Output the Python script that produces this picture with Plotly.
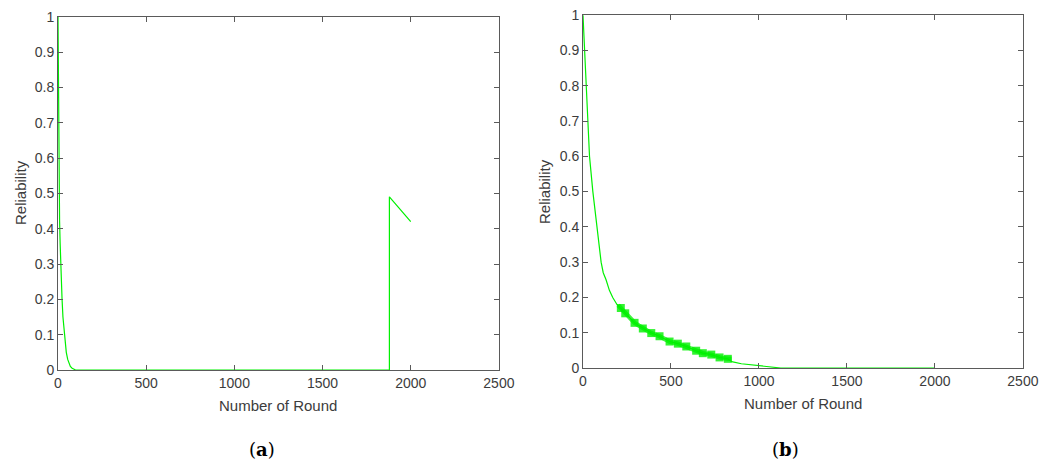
import plotly.graph_objects as go

# panel (a): reliability per round
rounds_a = [0, 1, 3, 6, 9, 12, 15, 19, 23, 28, 36, 42, 47, 55, 62, 70, 80, 90, 100,
            1879, 1879, 2000]
rel_a = [1, 0.9, 0.7, 0.55, 0.42, 0.36, 0.3, 0.25, 0.2, 0.15, 0.1, 0.07, 0.05, 0.03,
         0.02, 0.01, 0.005, 0.002, 0, 0, 0.49, 0.42]

# panel (b): reliability per round
rounds_b = [0, 9, 19, 26, 37, 56, 79, 90, 103, 115, 131, 150, 169, 193, 253, 293, 318,
            388, 435, 492, 539, 587, 643, 681, 729, 776, 823, 845, 900, 975, 1050, 1086,
            1124, 2000]
rel_b = [1, 0.9, 0.8, 0.7, 0.6, 0.5, 0.4, 0.35, 0.3, 0.27, 0.25, 0.22, 0.2, 0.18, 0.15,
         0.128, 0.12, 0.099, 0.09, 0.075, 0.069, 0.061, 0.049, 0.042, 0.038, 0.03, 0.026,
         0.018, 0.012, 0.008, 0.004, 0.003, 0, 0]

# noisy band in (b)
band_x = [200, 253, 293, 318, 388, 435, 492, 539, 587, 643, 681, 729, 776, 823, 845]
band_y = [0.178, 0.15, 0.128, 0.12, 0.099, 0.09, 0.075, 0.069, 0.061, 0.049, 0.042,
          0.038, 0.03, 0.026, 0.026]
blob_x = [215, 240, 293, 340, 388, 435, 492, 539, 587, 643, 681, 729, 776, 823]
blob_y = [0.17, 0.155, 0.128, 0.112, 0.099, 0.09, 0.075, 0.069, 0.061, 0.049, 0.042,
          0.038, 0.03, 0.026]

x_ticks = [0, 500, 1000, 1500, 2000, 2500]
y_ticks = [0, 0.1, 0.2, 0.3, 0.4, 0.5, 0.6, 0.7, 0.8, 0.9, 1]
y_labels = ["0", "0.1", "0.2", "0.3", "0.4", "0.5", "0.6", "0.7", "0.8", "0.9", "1"]

green = '#00f000'
axis_col = '#5a5a5a'
text_col = '#3c3c3c'
sans = 'Liberation Sans, Arial'

W, H = 1061, 464
OFF = 8  # page body margin


def px(p):
    return (p - OFF) / W


def py(p):
    return 1 - (p - OFF) / H


fig = go.Figure()
fig.add_trace(go.Scatter(x=rounds_a, y=rel_a, mode='lines', xaxis='x', yaxis='y',
                         line=dict(color=green, width=1.2), showlegend=False))
fig.add_trace(go.Scatter(x=band_x, y=band_y, mode='lines', xaxis='x2', yaxis='y2',
                         line=dict(color=green, width=4.5), opacity=0.75, showlegend=False))
fig.add_trace(go.Scatter(x=rounds_b, y=rel_b, mode='lines', xaxis='x2', yaxis='y2',
                         line=dict(color=green, width=1.2), showlegend=False))
fig.add_trace(go.Scatter(x=blob_x, y=blob_y, mode='markers', xaxis='x2', yaxis='y2',
                         marker=dict(symbol='square', size=8, color=green, opacity=0.8),
                         showlegend=False))

common_x = dict(range=[0, 2500.5], tickvals=x_ticks, ticks='inside', ticklen=5,
                tickcolor=axis_col, showline=True, linecolor=axis_col, linewidth=1,
                mirror='ticks', showgrid=False, zeroline=False, automargin=False,
                ticklabeloverflow='allow',
                tickfont=dict(family=sans, size=14, color=text_col))
common_y = dict(range=[0, 1.0005], tickvals=y_ticks, ticktext=y_labels, ticks='inside',
                ticklen=5, tickcolor=axis_col, showline=True, linecolor=axis_col,
                linewidth=1, mirror='ticks', showgrid=False, zeroline=False,
                automargin=False, ticklabeloverflow='allow',
                tickfont=dict(family=sans, size=14, color=text_col))

fig.update_layout(
    width=W, height=H,
    margin=dict(l=0, r=0, t=0, b=0),
    paper_bgcolor='white', plot_bgcolor='white',
    xaxis=dict(domain=[px(58), px(499)], anchor='y', **common_x),
    yaxis=dict(domain=[py(370), py(16.5)], anchor='x', **common_y),
    xaxis2=dict(domain=[px(583), px(1023)], anchor='y2', **common_x),
    yaxis2=dict(domain=[py(368), py(15)], anchor='x2', **common_y),
)

centered = dict(xref='paper', yref='paper', showarrow=False,
                xanchor='center', yanchor='middle')

# axis titles
for xpos, ypos in [(278, 405), (803, 403)]:
    fig.add_annotation(x=px(xpos), y=py(ypos), text='Number of Round',
                       font=dict(family=sans, size=15, color=text_col), **centered)
for xpos, ypos in [(20, 193), (544, 192)]:
    fig.add_annotation(x=px(xpos), y=py(ypos), text='Reliability', textangle=-90,
                       font=dict(family=sans, size=15, color=text_col), **centered)

for label, xpos in [('a', 262), ('b', 785)]:
    fig.add_annotation(x=px(xpos), y=py(449), text=f'(<b>{label}</b>)',
                       font=dict(family='DejaVu Serif', size=18, color='black'), **centered)

fig.write_html("out.html")
